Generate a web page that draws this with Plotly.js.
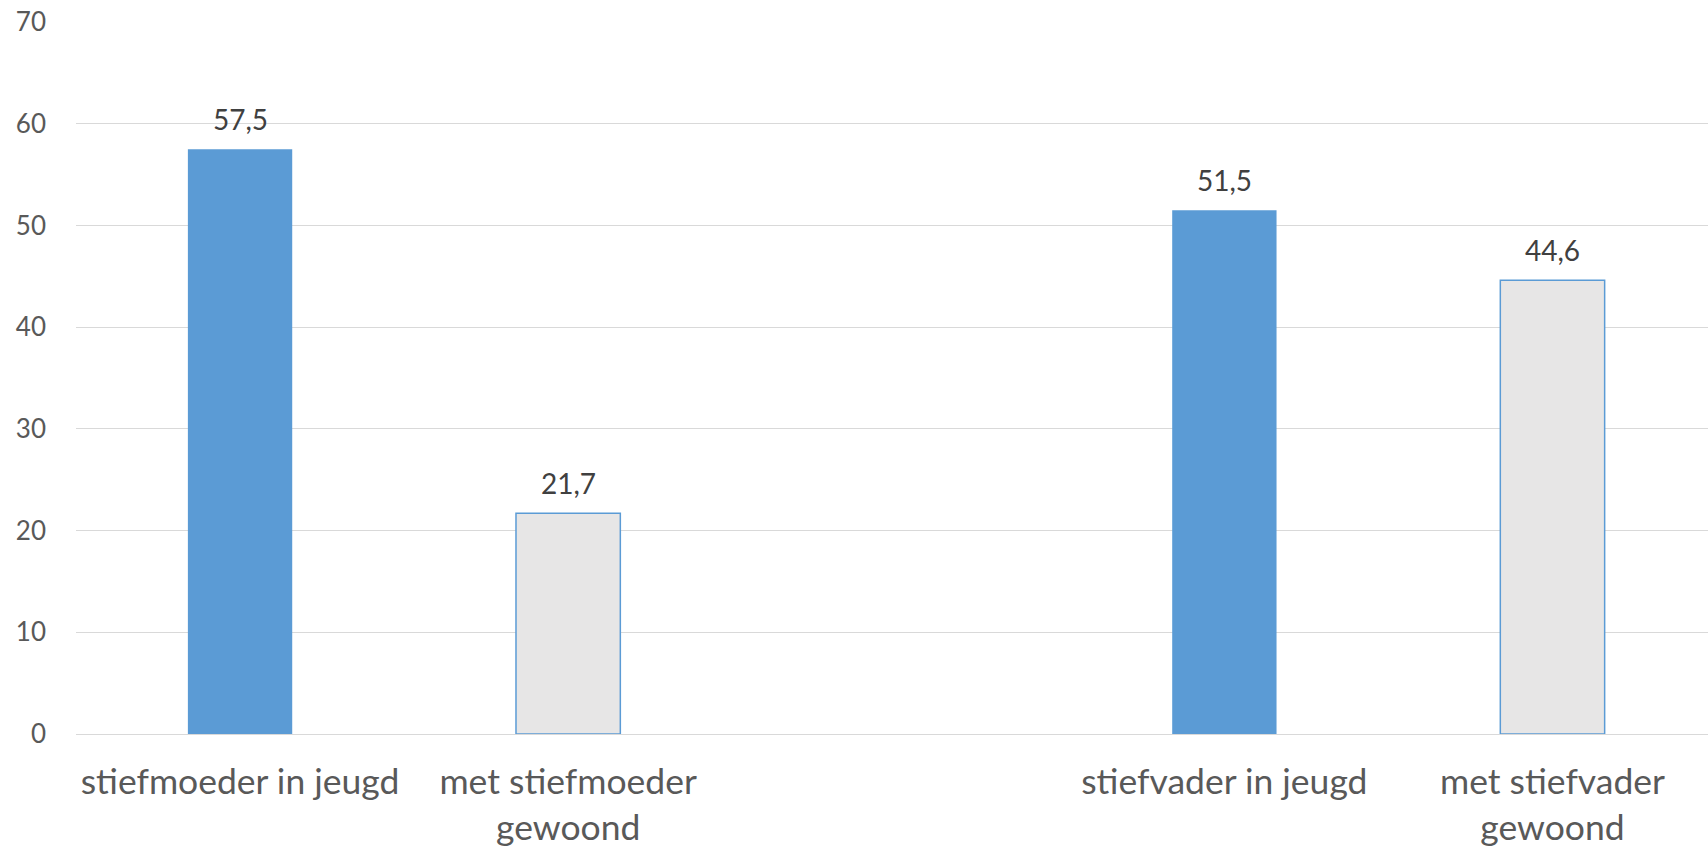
<!DOCTYPE html>
<html>
<head>
<meta charset="utf-8">
<script src="https://cdn.plot.ly/plotly-3.0.1.min.js"></script>
<style>
  html, body { margin: 0; padding: 0; background: #ffffff; overflow: hidden; }
  #chart { width: 1708px; height: 847px; }
</style>
</head>
<body>
<div id="chart"></div>
<script>
// Data
var categories = [
  "stiefmoeder in jeugd",
  "met stiefmoeder<br>gewoond",
  " ",
  "stiefvader in jeugd",
  "met stiefvader<br>gewoond"
];
var values = [57.5, 21.7, null, 51.5, 44.6];
var barKinds = ["jeugd", "gewoond", "", "jeugd", "gewoond"];
var yTickValues = [0, 10, 20, 30, 40, 50, 60, 70];

// Styles
var BLUE = "#5B9BD5";
var GREY = "#E7E6E6";
var fillColors = barKinds.map(function (k) { return k === "gewoond" ? GREY : BLUE; });
var lineColors = barKinds.map(function () { return BLUE; });
var lineWidths = barKinds.map(function (k) { return k === "gewoond" ? 1.5 : 0; });

var trace = {
  type: "bar",
  x: categories,
  y: values,
  marker: { color: fillColors, line: { color: lineColors, width: lineWidths } },
  hoverinfo: "x+y",
  showlegend: false
};

var annotations = [];
categories.forEach(function (c, i) {
  if (values[i] === null) return;
  annotations.push({
    x: c, y: values[i], xref: "x", yref: "y",
    text: values[i].toFixed(1).replace(".", ","),
    showarrow: false, yanchor: "middle", yshift: 30,
    font: { family: "Lato, sans-serif", size: 28, color: "#404040" }
  });
});

var layout = {
  width: 1708, height: 847,
  margin: { l: 76, r: 0, t: 22, b: 113 },
  paper_bgcolor: "#ffffff", plot_bgcolor: "#ffffff",
  bargap: 0.682,
  xaxis: {
    type: "category",
    categoryorder: "array",
    categoryarray: categories,
    range: [-0.5, 4.474],
    showgrid: false, showline: false, zeroline: false,
    ticks: "",
    ticklabelstandoff: 23,
    tickfont: { family: "Lato, sans-serif", size: 35.5, color: "#595959" }
  },
  yaxis: {
    range: [0, 70],
    tickvals: yTickValues,
    showgrid: true, gridcolor: "#D9D9D9", gridwidth: 1,
    zeroline: true, zerolinecolor: "#D9D9D9", zerolinewidth: 1,
    showline: false, ticks: "",
    ticklabelstandoff: 29,
    tickfont: { family: "Lato, sans-serif", size: 26, color: "#595959" }
  },
  annotations: annotations,
  font: { family: "Lato, sans-serif" }
};

Plotly.newPlot("chart", [trace], layout, { displayModeBar: false, staticPlot: true });
</script>
</body>
</html>
